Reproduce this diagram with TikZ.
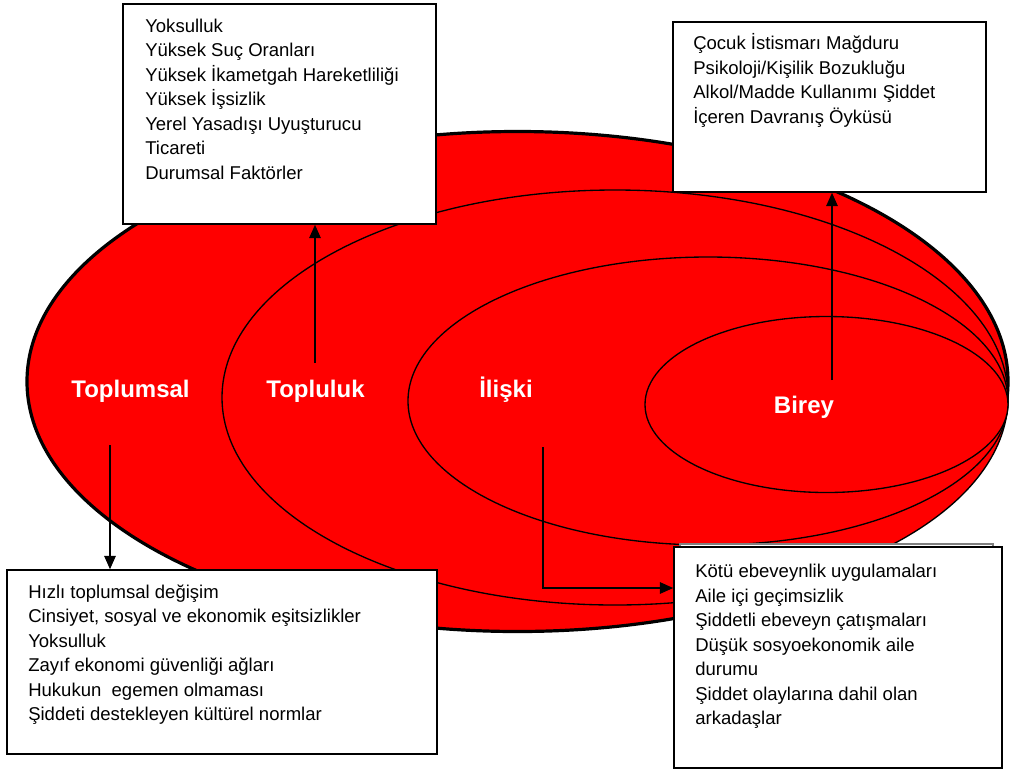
\documentclass[tikz,border=0pt]{standalone}
\usepackage{fontspec}
\setmainfont{Liberation Sans}
\usetikzlibrary{arrows.meta,fit}
\definecolor{bgred}{RGB}{255,0,0}
\tikzset{
 ring/.style={fill=bgred, draw=black, line width=1pt},
 outerring/.style={fill=bgred, draw=black, line width=2.4pt},
 lvl/.style={text=white, anchor=base, inner sep=0, font=\fontsize{18}{21}\selectfont\bfseries},
 infobox/.style={draw=black, fill=white, line width=1.1pt, inner sep=0},
 shadowbox/.style={draw=gray, fill=white, line width=0.8pt, inner sep=0},
 infotext/.style={anchor=base west, inner sep=0, font=\fontsize{13.9}{18.4}\selectfont},
 arr/.style={-{Triangle[length=10pt,width=8.5pt]}, line width=1.3pt},
}
\begin{document}
\begin{tikzpicture}[x=0.75pt,y=-0.75pt]
\useasboundingbox (0,0) rectangle (1010,769);
% nested ellipses
\draw[outerring] (517.5,381.5) ellipse [x radius=490.5, y radius=250];
\draw[ring] (615,397.5) ellipse [x radius=393, y radius=207.5];
\draw[ring] (708,401) ellipse [x radius=300, y radius=144];
\draw[ring] (826.5,404.5) ellipse [x radius=181.5, y radius=88];
% level labels
\node[lvl] (lToplumsal) at (130.5,397) {Toplumsal};
\node[lvl] (lTopluluk) at (315.5,397) {Topluluk};
\node[lvl] (lIliski) at (506,397) {İlişki};
\node[lvl] (lBirey) at (804,413) {Birey};
% boxes
\node[infobox, fit={(123,4) (436,224)}] (bTopluluk) {};
\node[infobox, fit={(673,22) (986,192)}] (bBirey) {};
\node[infobox, fit={(7,570) (437,754)}] (bToplumsal) {};
\node[shadowbox, fit={(680,544) (993,700)}] (bIliskiShadow) {};
\node[infobox, fit={(674,547) (1002,768)}] (bIliski) {};
% arrow start points
\coordinate (aTopluluk) at (315,363);
\coordinate (aBirey) at (832,380);
\coordinate (aToplumsal) at (110,445);
\coordinate (aIliski) at (543,447);
\coordinate (aIliskiBend) at (543,588);
\draw[arr] (aTopluluk) -- (aTopluluk |- bTopluluk.south);
\draw[arr] (aBirey) -- (aBirey |- bBirey.south);
\draw[arr] (aToplumsal) -- (aToplumsal |- bToplumsal.north);
\draw[arr] (aIliski) -- (aIliskiBend) -- (aIliskiBend -| bIliski.west);
% texts
\node[infotext] (tTopluluk) at (145,32) {\begin{tabular}[t]{@{}l@{}}Yoksulluk\\Yüksek Suç Oranları\\Yüksek İkametgah Hareketliliği\\Yüksek İşsizlik\\Yerel Yasadışı Uyuşturucu\\Ticareti\\Durumsal Faktörler\end{tabular}};
\node[infotext] (tBirey) at (693,49.5) {\begin{tabular}[t]{@{}l@{}}Çocuk İstismarı Mağduru\\Psikoloji/Kişilik Bozukluğu\\Alkol/Madde Kullanımı Şiddet\\İçeren Davranış Öyküsü\end{tabular}};
\node[infotext] (tToplumsal) at (28,598) {\begin{tabular}[t]{@{}l@{}}Hızlı toplumsal değişim\\Cinsiyet, sosyal ve ekonomik eşitsizlikler\\Yoksulluk\\Zayıf ekonomi güvenliği ağları\\Hukukun\ \ egemen olmaması\\Şiddeti destekleyen kültürel normlar\end{tabular}};
\node[infotext] (tIliski) at (695,577.7) {\begin{tabular}[t]{@{}l@{}}Kötü ebeveynlik uygulamaları\\Aile içi geçimsizlik\\Şiddetli ebeveyn çatışmaları\\Düşük sosyoekonomik aile\\durumu\\Şiddet olaylarına dahil olan\\arkadaşlar\end{tabular}};
\end{tikzpicture}
\end{document}
